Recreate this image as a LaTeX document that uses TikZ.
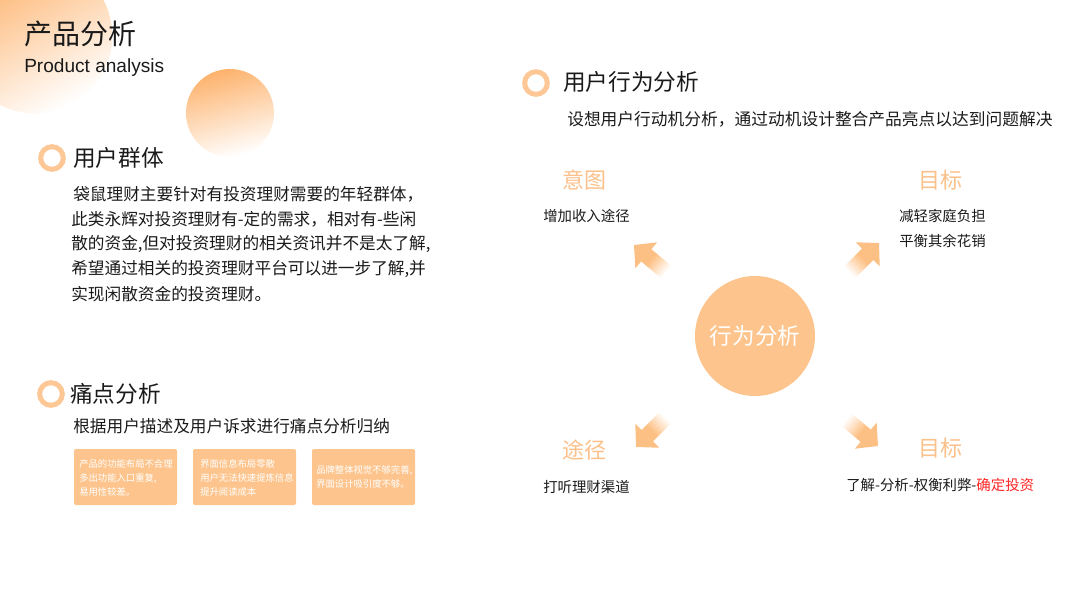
\documentclass[tikz,border=0pt]{standalone}
\usepackage{fontspec}
\setmainfont{Noto Sans CJK SC}
\newfontfamily\arialf{Liberation Sans}
\definecolor{acc}{HTML}{FDC58D}
\definecolor{arrc}{HTML}{FDC084}
\definecolor{accd}{HTML}{FDB26C}
\definecolor{ringc}{HTML}{FDC796}
\definecolor{lblc}{HTML}{FCC08A}
\definecolor{txtc}{HTML}{1A1A1A}
\definecolor{redc}{HTML}{FF2424}
\pgfdeclareverticalshading{arrshade}{100bp}{color(0bp)=(white); color(30bp)=(white); color(55bp)=(arrc); color(100bp)=(arrc)}
\tikzset{
  tx/.style={inner sep=0pt, text=txtc, anchor=west},
  head/.style={tx, font=\fontsize{17}{20}\selectfont},
  body/.style={tx, font=\fontsize{12.5}{15}\selectfont},
  small/.style={tx, font=\fontsize{10.8}{13}\selectfont},
  lbl/.style={inner sep=0pt, text=lblc, font=\fontsize{16.5}{19}\selectfont},
  ring/.style={draw=ringc, line width=3.75pt},
  boxst/.style={fill=acc, rounded corners=1.5pt, minimum width=77.25pt, minimum height=42pt, inner sep=0pt},
  boxtxt/.style={inner sep=0pt, text=white, anchor=west, align=left, font=\fontsize{7}{10.5}\selectfont},
}
\newcommand\fatarrow[4]{%
  \pgfmathsetmacro\Hx{#1+16*(#3)}\pgfmathsetmacro\Hy{#2+16*(#4)}%
  \pgfmathsetmacro\Tx{#1+46*(#3)}\pgfmathsetmacro\Ty{#2+46*(#4)}%
  \pgfmathsetmacro\nx{-(#4)}\pgfmathsetmacro\ny{#3}%
  \pgfmathsetmacro\ang{atan2(#4,-(#3))-90}%
  \shade[shading=arrshade, shading angle=\ang]
    (#1,#2) -- ({\Hx+17*(\nx)},{\Hy+17*(\ny)}) -- ({\Hx+8*(\nx)},{\Hy+8*(\ny)})
    -- ({\Tx+8*(\nx)},{\Ty+8*(\ny)}) -- ({\Tx-8*(\nx)},{\Ty-8*(\ny)})
    -- ({\Hx-8*(\nx)},{\Hy-8*(\ny)}) -- ({\Hx-17*(\nx)},{\Hy-17*(\ny)}) -- cycle;
}
\begin{document}
\begin{tikzpicture}[x=0.75pt,y=-0.75pt]
\useasboundingbox (0,0) rectangle (1067,600);
\clip (0,0) rectangle (1067,600);
% background circles
\shade[top color=accd, bottom color=white, shading angle=30] (35,36) circle (58pt);
\shade[top color=accd, bottom color=white, shading angle=15] (230,113) circle (33pt);
% title
\node[tx, font=\fontsize{21}{24}\selectfont] (title) at (24,34) {产品分析};
\node[tx, font=\arialf\fontsize{14.3}{16}\selectfont] (sub) at (24,68) {Product analysis};
% user group
\draw[ring] (52,158) circle (8.5pt);
\node[head] (h1) at (73,158) {用户群体};
\node[body] (p1) at (73,194.5) {袋鼠理财主要针对有投资理财需要的年轻群体，};
\node[body] (p2) at (71,219.3) {此类永辉对投资理财有-定的需求，相对有-些闲};
\node[body] (p3) at (71,244.1) {散的资金,但对投资理财的相关资讯并不是太了解,};
\node[body] (p4) at (71,268.9) {希望通过相关的投资理财平台可以进一步了解,并};
\node[body] (p5) at (71,293.7) {实现闲散资金的投资理财。};
% pain points
\draw[ring] (51,394) circle (8.5pt);
\node[head] (h2) at (70,394) {痛点分析};
\node[body] (q1) at (73,426) {根据用户描述及用户诉求进行痛点分析归纳};
\node[boxst] (b1) at (125.5,477) {};
\node[boxst] (b2) at (244.5,477) {};
\node[boxst] (b3) at (363.5,477) {};
\node[boxtxt] (b1t) at (79,478) {产品的功能布局不合理\\多出功能入口重复,\\易用性较差。};
\node[boxtxt] (b2t) at (200,478) {界面信息布局零散\\用户无法快速提炼信息\\提升阅读成本};
\node[boxtxt] (b3t) at (316,477) {品牌整体视觉不够完善,\\界面设计吸引度不够。};
% behaviour analysis
\draw[ring] (536,83) circle (8.5pt);
\node[head] (h3) at (563,82) {用户行为分析};
\node[tx, font=\fontsize{12.55}{15}\selectfont] (r1) at (567,119) {设想用户行动机分析，通过动机设计整合产品亮点以达到问题解决};
\node[circle, fill=acc, minimum size=90pt, inner sep=0pt, text=white, font=\fontsize{17}{20}\selectfont] (c) at (755,336) {行为分析};
\fatarrow{634}{245}{0.766}{0.643}
\fatarrow{879}{243}{-0.707}{0.707}
\fatarrow{636}{447}{0.707}{-0.707}
\fatarrow{878}{446}{-0.766}{-0.643}
\node[lbl] (l1) at (584,180) {意图};
\node[small] (l1t) at (543,216) {增加收入途径};
\node[lbl] (l2) at (940,180) {目标};
\node[small] (l2t) at (899,216) {减轻家庭负担};
\node[small] (l2u) at (899,241) {平衡其余花销};
\node[lbl] (l3) at (584,450) {途径};
\node[small] (l3t) at (543,487) {打听理财渠道};
\node[lbl] (l4) at (940,448) {目标};
\node[small] (l4t) at (846,485) {了解-分析-权衡利弊-\textcolor{redc}{确定投资}};
\end{tikzpicture}
\end{document}
